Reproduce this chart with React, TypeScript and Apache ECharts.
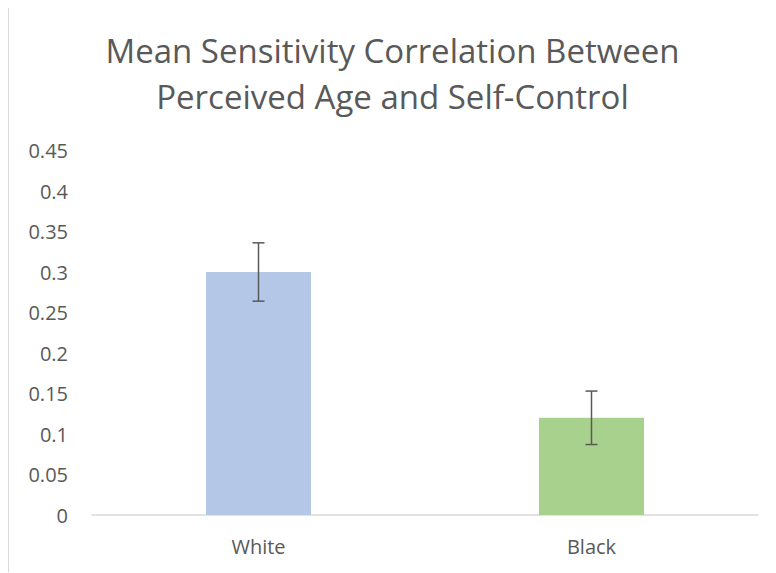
import React, { useEffect, useRef } from "react";
import * as echarts from "echarts";

const categories = ["White", "Black"];
const means = [0.3, 0.12];
const errors = [0.036, 0.033];
const barColors = ["#B4C7E7", "#A9D18E"];
const titleText = "Mean Sensitivity Correlation Between\nPerceived Age and Self-Control";

export default function App() {
  const ref = useRef<HTMLDivElement>(null);
  useEffect(() => {
    if (!ref.current) return;
    const chart = echarts.init(ref.current, undefined, { renderer: "svg" });
    const font = "'Open Sans', 'Noto Sans', sans-serif";
    chart.setOption({
      animation: false,
      title: {
        text: titleText,
        left: "center",
        top: 14,
        textStyle: {
          fontFamily: font,
          fontSize: 33,
          fontWeight: "normal",
          color: "#595959",
          lineHeight: 46,
        },
      },
      grid: { left: 83, right: 18, top: 142.5, bottom: 57 },
      xAxis: {
        type: "category",
        data: categories,
        axisLine: { lineStyle: { color: "#D9D9D9", width: 1.5 } },
        axisTick: { show: false },
        axisLabel: { fontFamily: font, fontSize: 20, color: "#595959", margin: 21 },
      },
      yAxis: {
        type: "value",
        min: 0,
        max: 0.45,
        interval: 0.05,
        axisLine: { show: false },
        axisTick: { show: false },
        splitLine: { show: false },
        axisLabel: {
          fontFamily: font,
          fontSize: 20,
          color: "#595959",
          margin: 24,
          formatter: (v: number) => String(Math.round(v * 100) / 100),
        },
      },
      series: [
        {
          type: "bar",
          barWidth: 105,
          data: means.map((v, i) => ({ value: v, itemStyle: { color: barColors[i] } })),
        },
        {
          type: "custom",
          z: 10,
          data: means.map((m, i) => [i, m - errors[i], m + errors[i]]),
          renderItem: (params: any, api: any) => {
            const x = api.value(0);
            const lo = api.coord([x, api.value(1)]);
            const hi = api.coord([x, api.value(2)]);
            const half = 6;
            const style = { stroke: "#595959", lineWidth: 1.5 };
            return {
              type: "group",
              children: [
                { type: "line", shape: { x1: lo[0], y1: lo[1], x2: hi[0], y2: hi[1] }, style },
                { type: "line", shape: { x1: lo[0] - half, y1: lo[1], x2: lo[0] + half, y2: lo[1] }, style },
                { type: "line", shape: { x1: hi[0] - half, y1: hi[1], x2: hi[0] + half, y2: hi[1] }, style },
              ],
            };
          },
        },
      ],
    });
    return () => chart.dispose();
  }, []);
  return (
    <div
      style={{
        width: 768,
        height: 565,
        boxSizing: "border-box",
        borderLeft: "1px solid #D9D9D9",
        borderTop: "1px solid #D9D9D9",
        marginTop: -1,
      }}
    >
      <div ref={ref} style={{ width: 767, height: 564 }} />
    </div>
  );
}
